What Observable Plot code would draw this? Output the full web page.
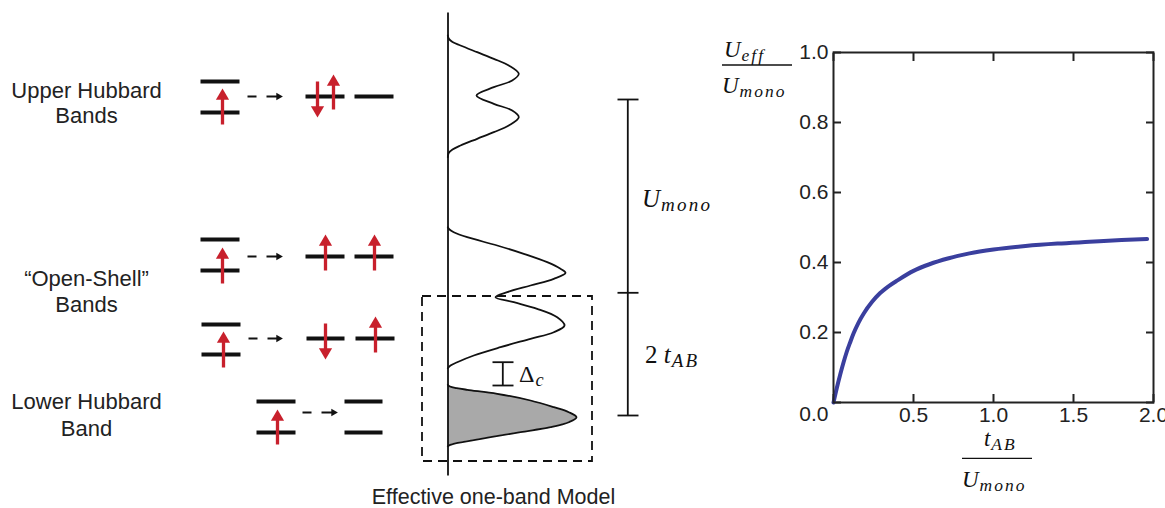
<!DOCTYPE html>
<html><head><meta charset="utf-8">
<script src="https://cdn.jsdelivr.net/npm/d3@7"></script>
<script src="https://cdn.jsdelivr.net/npm/@observablehq/plot@0.6"></script>
<style>
body{margin:0;background:#fff;}
#wrap{position:relative;width:1165px;height:508px;overflow:hidden;background:#fff;}
#left,#right,#math{position:absolute;top:0;}
#left{left:0;} #right{left:700px;} #math{left:0;pointer-events:none;}
</style></head><body>
<div id="wrap"><div id="left"></div><div id="right"></div><svg id="math" width="1165" height="508"></svg></div>
<script>
// ---------- right chart data ----------
const tAB  = [0, 0.02, 0.042, 0.063, 0.083, 0.105, 0.125, 0.155, 0.19, 0.24, 0.29, 0.35, 0.4, 0.5, 0.6, 0.72, 0.85, 1.0, 1.2, 1.4, 1.6, 1.8, 1.96];
const uEff = [0, 0.04, 0.08, 0.115, 0.145, 0.173, 0.197, 0.227, 0.255, 0.287, 0.312, 0.334, 0.349, 0.376, 0.395, 0.412, 0.426, 0.437, 0.447, 0.454, 0.459, 0.464, 0.467];
const xTicks = [0, 0.5, 1.0, 1.5, 2.0];
const yTicks = [0, 0.2, 0.4, 0.6, 0.8, 1.0];
const xTickLabels = [0.5, 1.0, 1.5, 2.0];      // "0.0" is shared with the y axis
const yTickLabels = [0.2, 0.4, 0.6, 0.8, 1.0];
const cornerLabel = [0];

// ---------- left schematic data (schematic units) ----------
const bandLabelText = ["Upper Hubbard", "Bands", "“Open-Shell”", "Bands", "Lower Hubbard", "Band"];
const bandLabelX = [86, 86, 86, 86, 86, 86];
const bandLabelY = [90, 115, 278, 304, 401, 428];

const levelX1 = [200, 200, 305, 354, 200, 200, 305, 354, 201, 201, 306, 355, 256, 256, 344, 344];
const levelX2 = [239, 239, 344, 393, 239, 239, 344, 393, 240, 240, 344, 394, 295, 295, 382, 382];
const levelY  = [81, 112, 96, 96, 239, 270, 256, 256, 324, 354, 338, 338, 401, 432, 401, 432];

const spinX    = [222, 317, 333, 222, 325, 374, 223, 325, 375, 277];
const spinTail = [124, 81, 109, 283, 270, 270, 367, 323, 352, 444];
const spinTip  = [88, 117, 74, 247, 234, 234, 331, 359, 316, 409];
const spinDir  = ["up", "down", "up", "up", "up", "up", "up", "down", "up", "up"];

const hopX1 = [247, 247, 248, 302];
const hopX2 = [282, 282, 282, 337];
const hopY  = [96, 256, 338, 412];

const dosAxisX = 447.5;
const dosUpperX = [447.3, 448.2, 452, 460, 476.7, 493.3, 508.3, 518.3, 511.7, 493.3, 476, 493.3, 511.7, 518.3, 508.3, 493.3, 476.7, 460, 452, 448.2, 447.3];
const dosUpperY = [35, 38, 41.5, 45, 51.7, 58.3, 65, 73.3, 80, 86.7, 95, 103.3, 110, 116.7, 125, 131.7, 138.3, 145, 149, 152.5, 156.7];
const dosMidX = [447.3, 449, 453.3, 466.7, 496.7, 523.3, 546.7, 560, 565, 553.3, 530, 506.7, 495, 513.3, 536.7, 556.7, 564, 553.3, 530, 500, 473.3, 456.7, 450, 447.3];
const dosMidY = [226.7, 229, 231.7, 236.7, 245, 253.3, 261.7, 268.3, 272.3, 278.3, 285, 291.7, 296.7, 301.7, 308.3, 316.7, 325, 331.7, 338.3, 346.7, 355, 361.7, 365, 367.8];
const dosLowX = [447.3, 449.5, 456, 466.7, 496.7, 530, 553.3, 568.3, 576, 568.3, 550, 520, 490, 463.3, 453, 449, 447.3];
const dosLowY = [384.3, 386, 387.6, 389.3, 393.3, 400, 406.7, 411.7, 416.7, 421.7, 426.7, 431.7, 436.7, 441.3, 443.3, 444.6, 445.7];

const boxX = [422, 592];
const boxY = [296, 461];
const scaleBarX = 627.3;
const scaleBarY = [99, 292.3, 415];
const scaleCapX = [617, 638];
const gapBarX = 502.3;
const gapBarY = [361.7, 385];
const gapCapX = [492, 513];
const captionText = "Effective one-band Model";
const captionPos = [493, 497];

// ---------- build tables ----------
const curveData = tAB.map((t, i) => ({t, v: uEff[i]}));
const labels = bandLabelText.map((text, i) => ({text, x: bandLabelX[i], y: bandLabelY[i]}));
const levels = levelY.map((y, i) => ({x1: levelX1[i], x2: levelX2[i], y}));
const spins = spinX.map((x, i) => ({x, tail: spinTail[i], tip: spinTip[i], dir: spinDir[i]}));
const hops = hopY.map((y, i) => ({x1: hopX1[i], x2: hopX2[i], y}));
const dos = [
  ...dosUpperX.map((x, i) => ({band: "upper", x, y: dosUpperY[i]})),
  ...dosMidX.map((x, i) => ({band: "middle", x, y: dosMidY[i]})),
  ...dosLowX.map((x, i) => ({band: "lower", x, y: dosLowY[i]}))
];
const dosLower = dos.filter(d => d.band === "lower");
const barSegs = [
  {x1: scaleBarX, x2: scaleBarX, y1: scaleBarY[0], y2: scaleBarY[2]},
  ...scaleBarY.map(y => ({x1: scaleCapX[0], x2: scaleCapX[1], y1: y, y2: y})),
  {x1: gapBarX, x2: gapBarX, y1: gapBarY[0], y2: gapBarY[1]},
  ...gapBarY.map(y => ({x1: gapCapX[0], x2: gapCapX[1], y1: y, y2: y})),
  {x1: dosAxisX, x2: dosAxisX, y1: 12, y2: 475}
];

const red = "#c8202c";
const ink = "#111";
const sans = "'Liberation Sans', Arial, Helvetica, sans-serif";
const serif = "'Liberation Serif', 'Times New Roman', serif";

// ---------- left schematic ----------
const left = Plot.plot({
  width: 700, height: 508,
  marginLeft: 0, marginRight: 0, marginTop: 0, marginBottom: 0,
  x: {domain: [0, 700], range: [0, 700], axis: null},
  y: {domain: [0, 508], range: [0, 508], axis: null},
  style: {fontFamily: sans, color: "#222", background: "transparent"},
  marks: [
    Plot.text(labels, {x: "x", y: "y", text: "text", fontSize: 22, fill: "#222"}),
    Plot.link(levels, {x1: "x1", x2: "x2", y1: "y", y2: "y", stroke: ink, strokeWidth: 4}),
    Plot.link(spins, {x1: "x", x2: "x", y1: "tail", y2: d => d.tip + (d.dir === "up" ? 6 : -6), stroke: red, strokeWidth: 3.3}),
    Plot.dot(spins, {filter: d => d.dir === "up", x: "x", y: "tip", dy: 7.5, symbol: "triangle", r: 4.9, fill: red}),
    Plot.dot(spins, {filter: d => d.dir === "down", x: "x", y: "tip", dy: -7.5, symbol: "triangle", rotate: 180, r: 4.9, fill: red}),
    Plot.link(hops, {x1: "x1", x2: d => d.x2 - 3, y1: "y", y2: "y", stroke: ink, strokeWidth: 1.8, strokeDasharray: "9,10,14"}),
    Plot.dot(hops, {x: "x2", y: "y", dx: -4, symbol: "triangle", rotate: 90, r: 2.8, fill: ink}),
    Plot.areaX(dosLower, {x1: dosAxisX, x2: "x", y: "y", fill: "#a9a9a9", curve: "catmull-rom"}),
    Plot.link(barSegs, {x1: "x1", x2: "x2", y1: "y1", y2: "y2", stroke: ink, strokeWidth: 1.8}),
    Plot.line(dos, {x: "x", y: "y", z: "band", stroke: ink, strokeWidth: 1.8, curve: "catmull-rom"}),
    Plot.rect([{x1: boxX[0], x2: boxX[1], y1: boxY[0], y2: boxY[1]}], {x1: "x1", x2: "x2", y1: "y1", y2: "y2", fill: "none", stroke: ink, strokeWidth: 1.8, strokeDasharray: "9,6"}),
    Plot.text([{text: captionText, x: captionPos[0], y: captionPos[1]}], {x: "x", y: "y", text: "text", fontSize: 21.5, fill: "#222"})
  ]
});
document.getElementById("left").appendChild(left);

// ---------- right chart ----------
const fmt = d3.format(".1f");
const frameInk = "#222";
const chart = Plot.plot({
  width: 465, height: 508,
  marginLeft: 133, marginRight: 12, marginTop: 52, marginBottom: 106,
  x: {domain: [0, 2]},
  y: {domain: [0, 1]},
  style: {fontFamily: sans, fontSize: "21px", color: "#222", background: "transparent", overflow: "hidden"},
  marks: [
    Plot.axisY(yTickLabels, {anchor: "left", tickSize: 0, tickPadding: 5, tickFormat: fmt, label: null, fontSize: 21}),
    Plot.axisY(cornerLabel, {anchor: "left", tickSize: 0, tickPadding: 5, tickFormat: fmt, label: null, fontSize: 21, dy: 12}),
    Plot.axisX(xTickLabels, {anchor: "bottom", tickSize: 0, tickPadding: 5, tickFormat: fmt, label: null, fontSize: 21}),
    Plot.axisY(yTicks, {anchor: "left", tickSize: 8, dx: 8, fill: "none", stroke: frameInk, strokeWidth: 2, label: null}),
    Plot.axisY(yTicks, {anchor: "right", tickSize: 8, dx: -8, fill: "none", stroke: frameInk, strokeWidth: 2, label: null}),
    Plot.axisX(xTicks, {anchor: "bottom", tickSize: 8, dy: -8, fill: "none", stroke: frameInk, strokeWidth: 2, label: null}),
    Plot.axisX(xTicks, {anchor: "top", tickSize: 8, dy: 8, fill: "none", stroke: frameInk, strokeWidth: 2, label: null}),
    Plot.line(curveData, {x: "t", y: "v", stroke: "#3a3f9e", strokeWidth: 4, curve: "monotone-x"}),
    Plot.frame({stroke: frameInk, strokeWidth: 2})
  ]
});
document.getElementById("right").appendChild(chart);

// ---------- math labels (SVG text with subscripts) ----------
const msvg = d3.select("#math");
function mathText(x, y, parts, size) {
  const t = msvg.append("text").attr("x", x).attr("y", y)
    .attr("font-family", serif).attr("font-size", size).attr("fill", ink);
  let shift = 0;
  parts.forEach(p => {
    const s = t.append("tspan").text(p.t);
    if (p.i) s.attr("font-style", "italic");
    const want = p.sub ? Math.round(size * 0.16) : 0;
    if (want !== shift) { s.attr("dy", want - shift); shift = want; }
    if (p.sub) s.attr("font-size", size * 0.76).attr("letter-spacing", size * 0.09).attr("dx", size * 0.04);
  });
}
function bar(x1, x2, y) {
  msvg.append("line").attr("x1", x1).attr("x2", x2).attr("y1", y).attr("y2", y)
    .attr("stroke", ink).attr("stroke-width", 1.3);
}
const U_eff = [{t: "U", i: 1}, {t: "eff", i: 1, sub: 1}];
const U_mono = [{t: "U", i: 1}, {t: "mono", i: 1, sub: 1}];
const t_AB = [{t: "t", i: 1}, {t: "AB", i: 1, sub: 1}];
const two_tAB = [{t: "2 "}, {t: "t", i: 1}, {t: "AB", i: 1, sub: 1}];
const Delta_c = [{t: "Δ"}, {t: "c", i: 1, sub: 1}];

mathText(724, 56.5, U_eff, 23);
bar(722, 792, 65);
mathText(722, 93, U_mono, 23);
mathText(984, 445.5, t_AB, 23);
bar(962, 1032, 458.3);
mathText(962, 486.5, U_mono, 23);
mathText(642, 207, U_mono, 25);
mathText(645, 363, two_tAB, 25);
mathText(519, 382, Delta_c, 24);
</script></body></html>
